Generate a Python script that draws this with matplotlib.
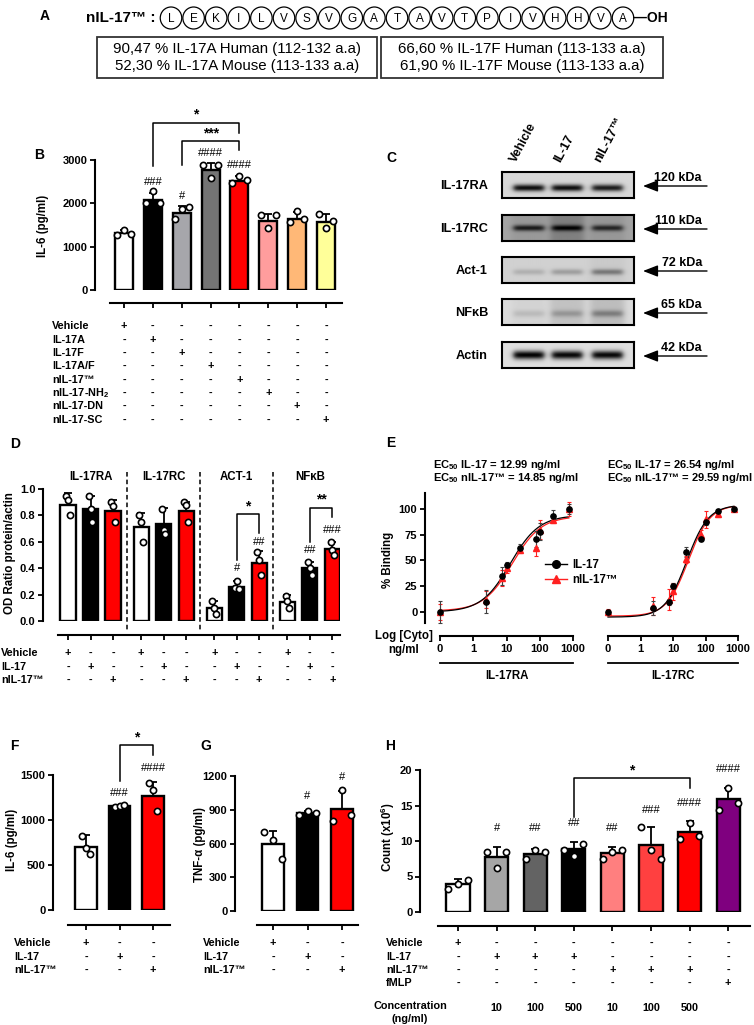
import numpy as np
import matplotlib
matplotlib.use("Agg")
import matplotlib.pyplot as plt
from matplotlib.patches import Ellipse, Rectangle
from matplotlib.lines import Line2D
from matplotlib.ticker import NullLocator, FormatStrFormatter
from matplotlib.transforms import blended_transform_factory as blend

plt.rcParams["font.family"] = ["Liberation Sans", "DejaVu Sans"]
plt.rcParams["font.weight"] = "bold"
plt.rcParams["axes.labelweight"] = "bold"
plt.rcParams["mathtext.fontset"] = "custom"
plt.rcParams["mathtext.rm"] = "Liberation Sans:bold"
plt.rcParams["mathtext.bf"] = "Liberation Sans:bold"
plt.rcParams["mathtext.it"] = "Liberation Sans:bold"

W, H = 754, 1025

# ---------------- data ----------------
# A: peptide sequence and homology
peptide = list("LEKILVSVGATAVTPIVHHVA")
hom_a = ["90,47 % IL-17A Human (112-132 a.a)", "52,30 % IL-17A Mouse (113-133 a.a)"]
hom_f = ["66,60 % IL-17F Human (113-133 a.a)", "61,90 % IL-17F Mouse (113-133 a.a)"]

# B: IL-6 release
b_groups = ["Vehicle", "IL-17A", "IL-17F", "IL-17A/F", "nIL-17\u2122",
            "nIL-17-NH$_2$", "nIL-17-DN", "nIL-17-SC"]
b_mean = [1320, 2080, 1780, 2780, 2515, 1590, 1650, 1580]
b_sd = [60, 170, 160, 150, 110, 170, 150, 180]
b_pts = [[1280, 1390, 1290], [2000, 2290, 2000], [1640, 1880, 1920], [2880, 2580, 2880],
         [2460, 2630, 2540], [1730, 1420, 1730], [1580, 1820, 1650], [1750, 1430, 1600]]
b_colors = ["white", "black", "#a6a6ab", "#747474", "#ff0000", "#ff9d9d", "#ffb877", "#ffff99"]
b_hash = ["", "###", "#", "####", "####", "", "", ""]

# C: western blots
blot_names = ["IL-17RA", "IL-17RC", "Act-1", "NF\u03baB", "Actin"]
blot_kda = ["120 kDa", "110 kDa", "72 kDa", "65 kDa", "42 kDa"]
blot_lanes = ["Vehicle", "IL-17", "nIL-17\u2122"]
ra_band = [0.80, 0.80, 0.74]
rc_band = [0.50, 0.50, 0.45]
act_band = [0.13, 0.20, 0.32]
nfkb_band = [0.10, 0.18, 0.26]
actin_band = [0.86, 0.84, 0.84]
ra_smear = [0.0, 0.0, 0.0]
rc_smear = [0.04, 0.14, 0.05]
act_smear = [0.0, 0.0, 0.03]
nfkb_smear = [0.03, 0.10, 0.12]
actin_smear = [0.0, 0.0, 0.0]
blot_bg = [0.84, 0.64, 0.82, 0.86, 0.87]

# D: densitometry
d_targets = ["IL-17RA", "IL-17RC", "ACT-1", "NF\u03baB"]
d_mean = [0.88, 0.85, 0.835, 0.715, 0.735, 0.835, 0.095, 0.26, 0.44, 0.147, 0.40, 0.545]
d_sd = [0.09, 0.10, 0.08, 0.10, 0.12, 0.07, 0.06, 0.04, 0.09, 0.05, 0.05, 0.05]
d_pts = [[0.95, 0.92, 0.80], [0.95, 0.85, 0.75], [0.90, 0.87, 0.75], [0.80, 0.75, 0.60],
         [0.85, 0.69, 0.66], [0.90, 0.88, 0.75], [0.15, 0.10, 0.05], [0.25, 0.30, 0.24],
         [0.52, 0.46, 0.35], [0.19, 0.15, 0.10], [0.45, 0.40, 0.35], [0.60, 0.54, 0.50]]
d_colors = ["white", "black", "#ff0000"] * 4
d_hash = ["", "", "", "", "", "", "", "#", "##", "", "##", "###"]

# E: binding curves
e_conc = np.array([0, 2.5, 7.5, 10, 25, 75, 100, 250, 750])
ra_il17 = [0, 10, 35, 46, 62, 71, 78, 93, 100]
ra_il17_sd = [11, 11, 9, 3, 4, 8, 8, 6, 5]
ra_nil = [0, 12, 33, 43, 60, 62, 80, 89, 100]
ra_nil_sd = [8, 8, 8, 5, 3, 8, 9, 3, 7]
rc_il17 = [0, 4, 10, 25, 58, 71, 87, 98, 100]
rc_il17_sd = [2, 7, 3, 3, 5, 2, 3, 2, 2]
rc_nil = [0, 6, 12, 20, 51, 75, 90, 95, 100]
rc_nil_sd = [3, 9, 10, 8, 3, 5, 8, 3, 2]
ra_ec50 = [12.99, 14.85]
rc_ec50 = [26.54, 29.59]
ra_bottom, ra_top, ra_hill = [0.0, 1.0], [94, 93], [1.0, 1.0]
rc_bottom, rc_top, rc_hill = [-5, -4], [104, 104], [1.3, 1.3]

# F, G: IL-6 and TNF-a
fg_groups = ["Vehicle", "IL-17", "nIL-17\u2122"]
f_mean = [705, 1155, 1270]
f_sd = [125, 12, 150]
f_pts = [[820, 690, 620], [1150, 1160, 1165], [1410, 1330, 1105]]
f_hash = ["", "###", "####"]
g_mean = [597, 874, 910]
g_sd = [115, 15, 160]
g_pts = [[700, 630, 460], [850, 889, 874], [800, 1073, 853]]
g_hash = ["", "#", "#"]
fg_colors = ["white", "black", "#ff0000"]

# H: cell count
h_rows = ["Vehicle", "IL-17", "nIL-17\u2122", "fMLP"]
h_table = [[1, 0, 0, 0, 0, 0, 0, 0],
           [0, 1, 1, 1, 0, 0, 0, 0],
           [0, 0, 0, 0, 1, 1, 1, 0],
           [0, 0, 0, 0, 0, 0, 0, 1]]
h_conc = ["", "10", "100", "500", "10", "100", "500", ""]
h_mean = [3.9, 7.8, 8.2, 8.9, 8.3, 9.5, 11.3, 15.9]
h_sd = [0.7, 1.3, 0.7, 1.0, 0.8, 2.5, 1.5, 1.6]
h_pts = [[3.3, 3.9, 4.5], [8.5, 6.2, 8.5], [7.5, 8.7, 8.4], [8.8, 7.9, 9.6],
         [7.4, 8.5, 8.7], [12.0, 8.7, 7.5], [10.3, 12.6, 10.7], [14.4, 17.4, 15.3]]
h_colors = ["white", "#a6a6a6", "#636363", "black", "#ff7f7f", "#ff4040", "#ff0000", "#7f007f"]
h_hash = ["", "#", "##", "##", "##", "###", "####", "####"]

# text sizes
FS_TICK = 8
FS_TAB = 7.8
FS_LAB = 8.3
FS_HASH = 8
FS_STAR = 10

# ---------------- helpers ----------------
fig = plt.figure(figsize=(W / 100, H / 100), dpi=100)

ov = fig.add_axes([0, 0, 1, 1], zorder=5)
ov.set_xlim(0, W)
ov.set_ylim(H, 0)
ov.axis("off")
ov.patch.set_visible(False)


def fy(py):
    return 1 - py / H


def px_axes(x0, y0, x1, y1):
    ax = fig.add_axes([x0 / W, 1 - y1 / H, (x1 - x0) / W, (y1 - y0) / H])
    ax.patch.set_visible(False)
    return ax


def cat_axes(x0, y0, x1, y1, first, step):
    ax = px_axes(x0, y0, x1, y1)
    ax.set_xlim((x0 - first) / step, (x1 - first) / step)
    return ax


def gp_style(ax, ylim, yticks, xpos, lo, hi, drop):
    ax.set_ylim(ylim)
    ax.set_yticks(yticks)
    ax.spines[["top", "right"]].set_visible(False)
    for s in ["left", "bottom"]:
        ax.spines[s].set_linewidth(1.5)
    ax.spines["bottom"].set_position(("outward", drop * 0.72))
    ax.spines["bottom"].set_bounds(lo, hi)
    ax.set_xticks(xpos)
    ax.set_xticklabels([])
    ax.tick_params(width=1.3, length=3.5, labelsize=FS_TICK, pad=2)


def gp_bars(ax, xpos, means, sds, pts, colors, width, spread):
    ax.bar(xpos, means, width=width, color=colors, edgecolor="black", linewidth=1.7, zorder=2)
    ax.errorbar(xpos, means, yerr=[np.zeros(len(sds)), sds], fmt="none", ecolor="black",
                elinewidth=1.3, capsize=3, capthick=1.3, zorder=3)
    for x, vals in zip(xpos, pts):
        ax.scatter(x + spread * np.array([-1, 0, 1]), vals, s=20, color="white",
                   edgecolor="black", linewidth=1.2, zorder=4, clip_on=False)


def gp_hash(ax, xpos, marks, ys):
    for x, m, y in zip(xpos, marks, ys):
        if m:
            ax.text(x, y, m, ha="center", va="center", fontsize=FS_HASH, fontweight="normal")


def gp_table(ax, xpos, flags, labels, label_px, row_py):
    tr = blend(ax.transData, fig.transFigure)
    for lab, row, py in zip(labels, flags, row_py):
        fig.text(label_px / W, fy(py), lab, ha="left", va="center", fontsize=FS_TAB)
        for x, f in zip(xpos, row):
            ax.text(x, fy(py), "+" if f else "-", transform=tr, ha="center", va="center",
                    fontsize=FS_TAB)


def bracket(ax, x1, x2, ytop, y1, y2, label, ylab):
    ax.plot([x1, x1, x2, x2], [y1, ytop, ytop, y2], color="black", lw=1.1, clip_on=False)
    ax.text((x1 + x2) / 2, ylab, label, ha="center", va="center", fontsize=FS_STAR)


def letter(px, py, s):
    fig.text(px / W, fy(py), s, ha="left", va="center", fontsize=10)


def ylab(px, py, s):
    fig.text(px / W, fy(py), s, ha="center", va="center", rotation=90, fontsize=FS_LAB)


def identity(n):
    return [[1 if i == j else 0 for j in range(n)] for i in range(n)]


# ---------------- A ----------------
letter(40, 16, "A")
ov.text(156, 18, "nIL-17\u2122 :", ha="right", va="center", fontsize=11)
for i, aa in enumerate(peptide):
    cx = 171 + 22.6 * i
    ov.add_patch(Ellipse((cx, 18), 21.5, 22, fill=False, lw=0.9, ec="black"))
    ov.text(cx, 18.5, aa, ha="center", va="center", fontsize=8.5, fontweight="normal")
ov.text(633, 18, "\u2014OH", ha="left", va="center", fontsize=10)
for x0, w, lines in [(97, 280, hom_a), (381, 282, hom_f)]:
    ov.add_patch(Rectangle((x0, 37), w, 41, fill=False, lw=1.3, ec="#333333"))
    for j, s in enumerate(lines):
        ov.text(x0 + w / 2, 49.5 + 16.5 * j, s, ha="center", va="center", fontsize=10.8,
                fontweight="normal")

# ---------------- B ----------------
letter(34, 155, "B")
axB = cat_axes(95, 160, 342, 290, 124, 28.86)
xb = np.arange(len(b_mean))
gp_bars(axB, xb, b_mean, b_sd, b_pts, b_colors, 0.62, 0.25)
gp_style(axB, (0, 3000), [0, 1000, 2000, 3000], xb, (110 - 124) / 28.86, (342 - 124) / 28.86, 13)
gp_hash(axB, xb, b_hash, [0, 2500, 2170, 3160, 2880, 0, 0, 0])
bracket(axB, 1, 4, 3854, 2860, 3620, "*", 4040)
bracket(axB, 2, 4, 3440, 2885, 3230, "***", 3620)
ylab(43, 226, "IL-6 (pg/ml)")
gp_table(axB, xb, identity(8), b_groups, 52, [326, 340, 353, 366, 380, 393, 406, 420])

# ---------------- C ----------------
letter(386, 158, "C")
blot_sets = [ra_band, rc_band, act_band, nfkb_band, actin_band]
smear_sets = [ra_smear, rc_smear, act_smear, nfkb_smear, actin_smear]
blot_top = [172, 215, 257, 299, 342]
band_yc = [0.63, 0.5, 0.58, 0.58, 0.5]
band_sy = [0.13, 0.12, 0.12, 0.13, 0.17]
lane_c = [0.2, 0.49, 0.795]
u = np.linspace(0, 1, 132)[None, :]
v = np.linspace(0, 1, 26)[:, None]
for k, name in enumerate(blot_names):
    ax = px_axes(502, blot_top[k], 634, blot_top[k] + 26)
    img = np.full((26, 132), blot_bg[k])
    for c, a, sm in zip(lane_c, blot_sets[k], smear_sets[k]):
        lane = 1 / (1 + np.exp(-(0.13 - np.abs(u - c)) / 0.015))
        img = img - sm * lane * np.ones_like(v)
        lane = 1 / (1 + np.exp(-(0.115 - np.abs(u - c)) / 0.012))
        img = img - a * lane * np.exp(-((v - band_yc[k]) / band_sy[k]) ** 2)
    ax.imshow(np.clip(img, 0, 1), cmap="gray", vmin=0, vmax=1, aspect="auto",
              interpolation="bilinear")
    ax.set_xticks([])
    ax.set_yticks([])
    for s in ax.spines.values():
        s.set_linewidth(1.5)
    yc = blot_top[k] + 14
    ov.text(488, yc, name, ha="right", va="center", fontsize=9.2)
    ov.annotate("", xy=(643, yc), xytext=(707, yc),
                arrowprops=dict(arrowstyle="-|>,head_length=0.9,head_width=0.35",
                                color="black", lw=1.0, shrinkA=0, shrinkB=0))
    ov.text(702, yc - 2, blot_kda[k], ha="right", va="bottom", fontsize=9)
for x0, s in zip([519, 563, 603], blot_lanes):
    ov.text(x0, 164, s, rotation=62, rotation_mode="anchor", ha="left", va="bottom",
            fontsize=9)

# ---------------- D ----------------
letter(10, 444, "D")
axD = cat_axes(43, 489, 340, 621, 68, 22.5)
xd = np.array([g * 3.25 + i for g in range(4) for i in range(3)])
gp_bars(axD, xd, d_mean, d_sd, d_pts, d_colors, 0.67, 0.08)
gp_style(axD, (0, 1.0), np.arange(0, 1.01, 0.2), xd, (58 - 68) / 22.5, (340 - 68) / 22.5, 14)
axD.yaxis.set_major_formatter(FormatStrFormatter("%.1f"))
trD = blend(axD.transData, fig.transFigure)
axD.vlines([g * 3.25 + 2.6 for g in range(3)], fy(472), fy(632), transform=trD,
           colors="black", linestyles=(0, (3, 2)), lw=1.1, clip_on=False)
for g, t in enumerate(d_targets):
    axD.text(g * 3.25 + 1, fy(477), t, transform=trD, ha="center", va="center", fontsize=FS_LAB)
gp_hash(axD, xd, d_hash, [0, 0, 0, 0, 0, 0, 0, 0.40, 0.60, 0, 0.535, 0.69])
bracket(axD, xd[7], xd[8], 0.81, 0.46, 0.665, "*", 0.87)
bracket(axD, xd[10], xd[11], 0.856, 0.60, 0.79, "**", 0.92)
ylab(10, 553, "OD Ratio protein/actin")
gp_table(axD, xd, [r * 4 for r in identity(3)], fg_groups, 1, [653, 667, 680])

# ---------------- E ----------------
letter(386, 443, "E")
for px, ec in [(433, ra_ec50), (607, rc_ec50)]:
    fig.text(px / W, fy(465), r"EC$_{50}$ IL-17 = %.2f ng/ml" % ec[0], ha="left",
             va="center", fontsize=8)
    fig.text(px / W, fy(478), r"EC$_{50}$ nIL-17" + "\u2122" + " = %.2f ng/ml" % ec[1],
             ha="left", va="center", fontsize=8)

xplot = np.where(e_conc == 0, 0.1, e_conc)
xs = np.logspace(-1, np.log10(750), 200)
e_sets = [
    (px_axes(425, 493, 600, 623), 440, 33.25, 425, 600, ra_il17, ra_il17_sd, ra_nil, ra_nil_sd,
     ra_ec50, ra_bottom, ra_top, ra_hill, "IL-17RA"),
    (px_axes(600, 493, 750, 623), 608, 32.5, 600, 750, rc_il17, rc_il17_sd, rc_nil, rc_nil_sd,
     rc_ec50, rc_bottom, rc_top, rc_hill, "IL-17RC"),
]
for (ax, p01, ppd, x0, x1, yk, sk, yr, sr, ec, bot, top, hill, name) in e_sets:
    ax.set_xscale("log")
    ax.set_xlim(10 ** (-1 + (x0 - p01) / ppd), 10 ** (-1 + (x1 - p01) / ppd))
    ax.set_ylim(-10.7, 115.5)
    for j, col in [(1, "#ff2020"), (0, "black")]:
        ax.plot(xs, bot[j] + (top[j] - bot[j]) / (1 + (ec[j] / xs) ** hill[j]), color=col, lw=0.9)
    ax.errorbar(xplot, yr, yerr=sr, fmt="^", color="#ff2020", ms=4, elinewidth=0.8,
                capsize=1.5, capthick=0.8, clip_on=False)
    ax.errorbar(xplot, yk, yerr=sk, fmt="o", color="black", ms=3.8, elinewidth=0.8,
                ecolor="#404040", capsize=1.5, capthick=0.8, clip_on=False)
    ax.spines[["top", "right"]].set_visible(False)
    ax.spines["bottom"].set_position(("outward", 13 * 0.72))
    ax.spines["bottom"].set_bounds(0.1, 1000)
    for s in ["left", "bottom"]:
        ax.spines[s].set_linewidth(1.5)
    ax.set_xticks([0.1, 1, 10, 100, 1000])
    ax.set_xticklabels(["0", "1", "10", "100", "1000"])
    ax.xaxis.set_minor_locator(NullLocator())
    ax.set_yticks([0, 25, 50, 75, 100])
    ax.tick_params(width=1.3, length=3.5, labelsize=FS_TICK, pad=2)
    trE = blend(ax.transData, fig.transFigure)
    ax.plot([0.1, 1000], [fy(663), fy(663)], transform=trE, color="black", lw=1.3, clip_on=False)
    ax.text(10, fy(676), name, transform=trE, ha="center", va="center", fontsize=FS_LAB)
ax_er = e_sets[1][0]
ax_er.spines["left"].set_visible(False)
ax_er.tick_params(axis="y", left=False, labelleft=False)
ylab(388, 560, "% Binding")
fig.text(404 / W, fy(636), "Log [Cyto]", ha="center", va="center", fontsize=FS_LAB)
fig.text(404 / W, fy(650), "ng/ml", ha="center", va="center", fontsize=FS_LAB)
fig.legend([Line2D([], [], color="black", marker="o", ms=5.5, lw=1),
            Line2D([], [], color="#ff2020", marker="^", ms=5.5, lw=1)],
           ["IL-17", "nIL-17\u2122"], loc="upper left", bbox_to_anchor=(545 / W, fy(559)),
           frameon=False, fontsize=8.3, handlelength=1.9, handletextpad=0.5,
           labelspacing=0.25, borderaxespad=0, borderpad=0)

# ---------------- F ----------------
letter(10, 746, "F")
axF = cat_axes(53, 775, 170, 910, 86, 33.5)
xf = np.arange(3)
gp_bars(axF, xf, f_mean, f_sd, f_pts, fg_colors, 0.63, 0.12)
gp_style(axF, (0, 1500), [0, 500, 1000, 1500], xf, (68 - 86) / 33.5, (170 - 86) / 33.5, 15)
gp_hash(axF, xf, f_hash, [0, 1296, 1574])
bracket(axF, 1, 2, 1833, 1437, 1722, "*", 1922)
ylab(12, 840, "IL-6 (pg/ml)")
gp_table(axF, xf, identity(3), fg_groups, 14, [943, 957, 970])

# ---------------- G ----------------
letter(200, 746, "G")
axG = cat_axes(235, 776, 358, 911, 273, 34.5)
gp_bars(axG, xf, g_mean, g_sd, g_pts, fg_colors, 0.61, 0.25)
gp_style(axG, (0, 1200), [0, 300, 600, 900, 1200], xf, (257 - 273) / 34.5, (358 - 273) / 34.5, 14)
gp_hash(axG, xf, g_hash, [0, 1022, 1194])
ylab(200, 845, "TNF-\u03b1 (pg/ml)")
gp_table(axG, xf, identity(3), fg_groups, 203, [943, 957, 970])

# ---------------- H ----------------
letter(385, 746, "H")
axH = cat_axes(420, 770, 750, 912, 458, 38.6)
xh = np.arange(8)
gp_bars(axH, xh, h_mean, h_sd, h_pts, h_colors, 0.6, 0.25)
gp_style(axH, (0, 20), [0, 5, 10, 15, 20], xh, (438 - 458) / 38.6, (750 - 458) / 38.6, 14)
gp_hash(axH, xh, h_hash, [0, 11.8, 11.8, 12.5, 11.8, 14.4, 15.4, 20.1])
bracket(axH, 3, 6, 18.9, 13.4, 17.4, "*", 20.0)
ylab(388, 837, "Count (x10$^6$)")
gp_table(axH, xh, h_table, h_rows, 386, [943, 957, 970, 983])
trH = blend(axH.transData, fig.transFigure)
for x, c in zip(xh, h_conc):
    axH.text(x, fy(1008), c, transform=trH, ha="center", va="center", fontsize=FS_TAB)
fig.text(410 / W, fy(1006), "Concentration", ha="center", va="center", fontsize=FS_TAB)
fig.text(410 / W, fy(1019), "(ng/ml)", ha="center", va="center", fontsize=FS_TAB)

fig.savefig("out.png", dpi=100)
